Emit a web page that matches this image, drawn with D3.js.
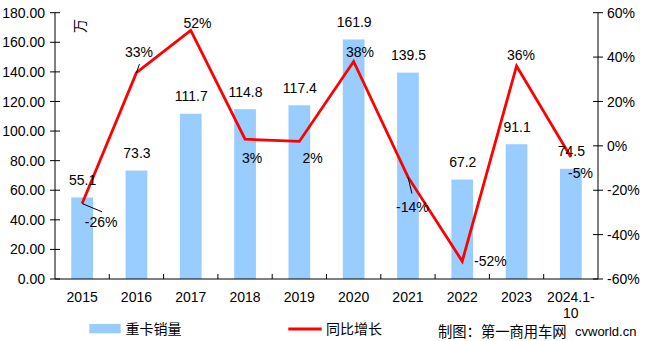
<!DOCTYPE html>
<html>
<head>
<meta charset="utf-8">
<script src="https://cdn.jsdelivr.net/npm/d3@7"></script>
<style>
  html, body { margin: 0; padding: 0; background: #fff; }
  svg { display: block; }
  text { font-family: "Liberation Sans", Arial, sans-serif; fill: #000; }
  .cjk { font-family: "Noto Sans CJK SC", sans-serif; }
</style>
</head>
<body>
<svg id="chart" width="646" height="341"></svg>
<script>
// Heavy truck sales (万辆) and year-on-year growth (%)
const categories = ["2015", "2016", "2017", "2018", "2019", "2020", "2021", "2022", "2023", "2024.1-10"];
const sales = [55.1, 73.3, 111.7, 114.8, 117.4, 161.9, 139.5, 67.2, 91.1, 74.5];
const growth = [-26, 33, 52, 3, 2, 38, -14, -52, 36, -5];
const leftTicks = [0, 20, 40, 60, 80, 100, 120, 140, 160, 180];
const rightTicks = [-60, -40, -20, 0, 20, 40, 60];

// label placement for the growth labels, relative to each line point
const growthLabelOffset = [[19, 18.6], [2.5, -21], [6.7, -7], [7, 18.7], [13.3, 16.4],
                           [6.3, -10], [4.5, 29.6], [28.2, 0], [4.4, -11.3], [9.6, 16]];
// short leader lines from a point toward its label
const leaders = [
  { i: 0, dx: 20, dy: 8.3 },
  { i: 1, dx: 3, dy: -8.5 },
  { i: 6, dx: 4, dy: 16.6 }
];

const svg = d3.select("#chart");
const plotLeft = 55, plotRight = 598, plotTop = 12.7, plotBottom = 279;

const x = d3.scaleBand().domain(categories).range([plotLeft, plotRight])
  .paddingInner(0.6).paddingOuter(0.3);
const yL = d3.scaleLinear().domain([0, 180]).range([plotBottom, plotTop]);
const yR = d3.scaleLinear().domain([-60, 60]).range([plotBottom, plotTop]);
const cx = d => x(d) + x.bandwidth() / 2;

// bars
svg.append("g").selectAll("rect").data(categories).join("rect")
  .attr("x", d => x(d))
  .attr("width", x.bandwidth())
  .attr("y", (d, i) => yL(sales[i]))
  .attr("height", (d, i) => plotBottom - yL(sales[i]))
  .attr("fill", "#99CCFF");

// left axis
const gL = svg.append("g");
gL.append("line").attr("x1", plotLeft).attr("x2", plotLeft).attr("y1", plotTop).attr("y2", plotBottom)
  .attr("stroke", "#000").attr("stroke-width", 1);
gL.selectAll(".t").data(leftTicks).join("line")
  .attr("x1", plotLeft - 5).attr("x2", plotLeft + 5)
  .attr("y1", d => yL(d)).attr("y2", d => yL(d))
  .attr("stroke", "#000");
gL.selectAll("text").data(leftTicks).join("text")
  .attr("x", plotLeft - 10).attr("y", d => yL(d)).attr("dy", "0.36em")
  .attr("text-anchor", "end").attr("font-size", 14)
  .text(d => d3.format(".2f")(d));

// right axis
const gR = svg.append("g");
gR.append("line").attr("x1", plotRight).attr("x2", plotRight).attr("y1", plotTop).attr("y2", plotBottom)
  .attr("stroke", "#000");
gR.selectAll(".t").data(rightTicks).join("line")
  .attr("x1", plotRight - 5).attr("x2", plotRight + 5)
  .attr("y1", d => yR(d)).attr("y2", d => yR(d))
  .attr("stroke", "#000");
gR.selectAll("text").data(rightTicks).join("text")
  .attr("x", plotRight + 9).attr("y", d => yR(d)).attr("dy", "0.36em")
  .attr("text-anchor", "start").attr("font-size", 14)
  .text(d => d + "%");

// x axis
const gX = svg.append("g");
gX.append("line").attr("x1", plotLeft).attr("x2", plotRight).attr("y1", plotBottom).attr("y2", plotBottom)
  .attr("stroke", "#000");
gX.selectAll(".t").data(categories.slice(1)).join("line")
  .attr("x1", d => x(d) - x.step() * x.paddingInner() / 2)
  .attr("x2", d => x(d) - x.step() * x.paddingInner() / 2)
  .attr("y1", plotBottom - 5).attr("y2", plotBottom)
  .attr("stroke", "#000");
gX.selectAll("text").data(categories).join("text")
  .attr("x", d => cx(d)).attr("y", 296.7).attr("dy", "0.36em")
  .attr("text-anchor", "middle").attr("font-size", 14)
  .each(function (d) {
    const t = d3.select(this);
    if (d === "2024.1-10") {
      t.append("tspan").attr("x", cx(d)).text("2024.1-");
      t.append("tspan").attr("x", cx(d)).attr("dy", 16.6).text("10");
    } else {
      t.text(d);
    }
  });

// unit label
svg.append("text").attr("class", "cjk")
  .attr("transform", "translate(80,26) rotate(-90)")
  .attr("text-anchor", "middle").attr("dy", "0.36em").attr("font-size", 14)
  .text("万");

// growth line
const line = d3.line().x((d, i) => cx(categories[i])).y(d => yR(d));
svg.append("path").datum(growth)
  .attr("d", line).attr("fill", "none")
  .attr("stroke", "#FF0000").attr("stroke-width", 2.8)
  .attr("stroke-linejoin", "miter");

// leader lines
svg.append("g").selectAll("line").data(leaders).join("line")
  .attr("x1", d => cx(categories[d.i])).attr("y1", d => yR(growth[d.i]))
  .attr("x2", d => cx(categories[d.i]) + d.dx).attr("y2", d => yR(growth[d.i]) + d.dy)
  .attr("stroke", "#000").attr("stroke-width", 1);

// growth labels
svg.append("g").selectAll("text").data(growth).join("text")
  .attr("x", (d, i) => cx(categories[i]) + growthLabelOffset[i][0])
  .attr("y", (d, i) => yR(d) + growthLabelOffset[i][1])
  .attr("dy", "0.36em").attr("text-anchor", "middle").attr("font-size", 14)
  .text(d => d + "%");

// sales labels
svg.append("g").selectAll("text").data(sales).join("text")
  .attr("x", (d, i) => cx(categories[i]) + 0.5)
  .attr("y", d => yL(d) - 17.5)
  .attr("dy", "0.36em").attr("text-anchor", "middle").attr("font-size", 14)
  .text(d => d3.format(".1f")(d));

// legend
const lg = svg.append("g");
lg.append("rect").attr("x", 89.3).attr("y", 324).attr("width", 31.4).attr("height", 9.3)
  .attr("fill", "#99CCFF");
lg.append("text").attr("class", "cjk").attr("x", 125.5).attr("y", 328.5).attr("dy", "0.36em")
  .attr("font-size", 14).text("重卡销量");
lg.append("line").attr("x1", 288.3).attr("x2", 321.7).attr("y1", 329).attr("y2", 329)
  .attr("stroke", "#FF0000").attr("stroke-width", 2.8);
lg.append("text").attr("class", "cjk").attr("x", 326).attr("y", 328.5).attr("dy", "0.36em")
  .attr("font-size", 14).text("同比增长");

// source note
svg.append("text").attr("class", "cjk").attr("x", 438).attr("y", 331.5).attr("dy", "0.36em")
  .attr("font-size", 14.3).text("制图：第一商用车网");
svg.append("text").attr("x", 575).attr("y", 331.5).attr("dy", "0.36em")
  .attr("font-size", 13).text("cvworld.cn");
</script>
</body>
</html>
